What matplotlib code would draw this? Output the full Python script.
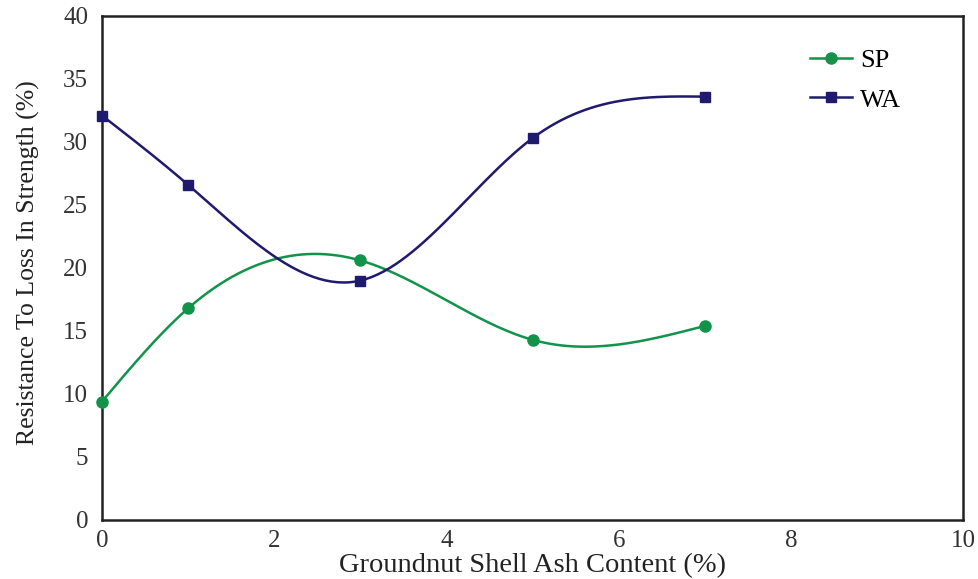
import matplotlib
matplotlib.use("Agg")
import matplotlib.pyplot as plt
import numpy as np


ASH = [0, 1, 3, 5, 7]
SP = [9.4, 16.8, 20.6, 14.3, 15.4]
WA = [32.1, 26.6, 19.0, 30.3, 33.6]

SP_COLOR = "#12934a"
WA_COLOR = "#1f1a6e"


def natural_spline(x, y, n=60):
    # natural cubic spline through the markers (smoothed connecting line)
    x = np.asarray(x, float)
    y = np.asarray(y, float)
    k = len(x)
    h = np.diff(x)
    d = np.diff(y) / h
    A = np.zeros((k, k))
    r = np.zeros(k)
    A[0, 0] = A[-1, -1] = 1.0
    for i in range(1, k - 1):
        A[i, i - 1] = h[i - 1]
        A[i, i] = 2 * (h[i - 1] + h[i])
        A[i, i + 1] = h[i]
        r[i] = 6 * (d[i] - d[i - 1])
    M = np.linalg.solve(A, r)
    xs, ys = [], []
    for i in range(k - 1):
        t = np.linspace(x[i], x[i + 1], n)
        a = x[i + 1] - t
        b = t - x[i]
        s = (M[i] * a ** 3 + M[i + 1] * b ** 3) / (6 * h[i]) \
            + (y[i] / h[i] - M[i] * h[i] / 6) * a + (y[i + 1] / h[i] - M[i + 1] * h[i] / 6) * b
        xs.extend(t)
        ys.extend(s)
    return np.array(xs), np.array(ys)


plt.rcParams["font.family"] = ["Liberation Serif", "DejaVu Serif"]

fig = plt.figure(figsize=(9.79, 5.79), dpi=100)
ax = fig.add_axes([0.1042, 0.1019, 0.8795, 0.8705])

series = [(SP, SP_COLOR, "o", 8, "SP"), (WA, WA_COLOR, "s", 7, "WA")]
for vals, color, marker, ms, label in series:
    sx, sy = natural_spline(ASH, vals)
    ax.plot(sx, sy, color=color, linewidth=1.8, zorder=2)
    ax.plot(ASH, vals, linestyle="none", marker=marker, markersize=ms,
            color=color, zorder=3, clip_on=False)
    ax.plot([], [], color=color, marker=marker, markersize=ms, linewidth=1.8, label=label)

ax.set_xlim(0, 10)
ax.set_ylim(0, 40)
ax.set_xticks(range(0, 11, 2))
ax.set_yticks(range(0, 41, 5))
ax.tick_params(length=0, labelsize=18, colors="#333333")
ax.tick_params(axis="x", pad=7)
ax.tick_params(axis="y", pad=10)
for s in ax.spines.values():
    s.set_linewidth(1.8)
    s.set_color("#222222")

ax.set_xlabel("Groundnut Shell Ash Content (%)", fontsize=20.5, color="#222222", labelpad=1)
ax.set_ylabel("Resistance To Loss In Strength (%)", fontsize=18.5, color="#222222")
ax.yaxis.set_label_coords(-0.072, 0.51)

ax.legend(loc="upper left", bbox_to_anchor=(0.822, 0.935), frameon=False, fontsize=19,
          borderpad=0, borderaxespad=0, handlelength=1.6, handletextpad=0.3,
          labelspacing=0.6)

fig.savefig("out.png", dpi=100)
